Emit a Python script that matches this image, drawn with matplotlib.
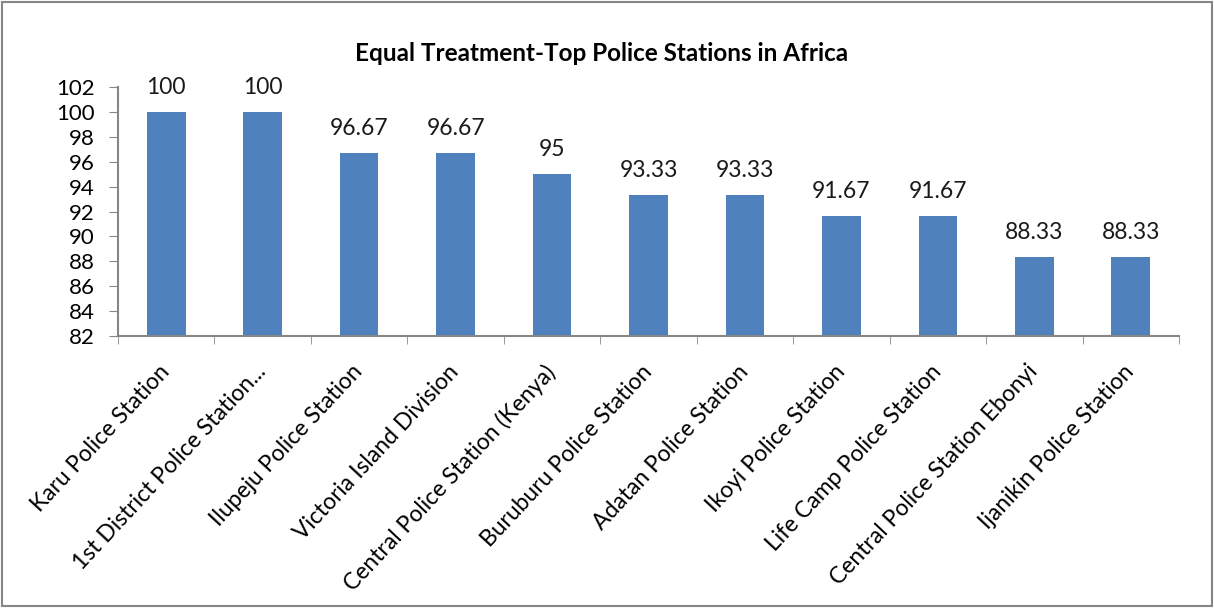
import matplotlib
matplotlib.use("Agg")
import matplotlib.pyplot as plt
import matplotlib.transforms as mtransforms
from matplotlib.patches import Rectangle
import numpy as np

categories = ["Karu Police Station", "1st District Police Station...", "Ilupeju Police Station",
              "Victoria Island Division", "Central Police Station (Kenya)", "Buruburu Police Station",
              "Adatan Police Station", "Ikoyi Police Station", "Life Camp Police Station",
              "Central Police Station Ebonyi", "Ijanikin Police Station"]
values = [100, 100, 96.67, 96.67, 95, 93.33, 93.33, 91.67, 91.67, 88.33, 88.33]
value_labels = ["100", "100", "96.67", "96.67", "95", "93.33", "93.33", "91.67", "91.67", "88.33", "88.33"]
yticks = list(range(82, 103, 2))

plt.rcParams['font.family'] = ['Lato', 'DejaVu Sans']

fig = plt.figure(figsize=(12.14, 6.08), dpi=100)
ax = fig.add_axes([118/1214, 1-336/608, (1179-118)/1214, (336-87)/608])

x = np.arange(len(categories))
ax.bar(x, [v - 82 for v in values], bottom=82, width=0.4, color="#4F81BD")
for xi, v, lab in zip(x, values, value_labels):
    ax.annotate(lab, (xi, v), xytext=(0, 10), textcoords="offset points",
                ha="center", va="bottom", fontsize=16.5, color="#1a1a1a")

ax.set_xlim(-0.5, len(categories) - 0.5)
ax.set_ylim(82, 102)
ax.set_yticks(yticks)
ax.set_yticklabels([str(t) for t in yticks], fontsize=16)
ax.set_xticks(x)
ax.set_xticklabels(categories, rotation=47, ha="right", rotation_mode="anchor", fontsize=16.5)
ax.set_xticks(np.arange(-0.5, len(categories), 1), minor=True)
ax.tick_params(axis="x", which="major", length=0, pad=18)
ax.tick_params(axis="x", which="minor", length=6, color="#868686", direction="out")
ax.tick_params(axis="y", length=6.5, color="#868686", pad=10)

offset = mtransforms.ScaledTranslation(-8/100, 0, fig.dpi_scale_trans)
for lbl in ax.get_xticklabels():
    lbl.set_transform(lbl.get_transform() + offset)

for s in ["top", "right"]:
    ax.spines[s].set_visible(False)
for s in ["left", "bottom"]:
    ax.spines[s].set_color("#868686")
    ax.spines[s].set_linewidth(1.5)

fig.text(601.5/1214, 1-61/608, "Equal Treatment-Top Police Stations in Africa",
         ha="center", va="baseline", fontsize=17.5, fontweight="bold")

fig.patches.append(Rectangle((0.002, 0.003), 0.996, 0.994, transform=fig.transFigure,
                             fill=False, edgecolor="#868686", linewidth=1.5))

fig.savefig("out.png", dpi=100)
